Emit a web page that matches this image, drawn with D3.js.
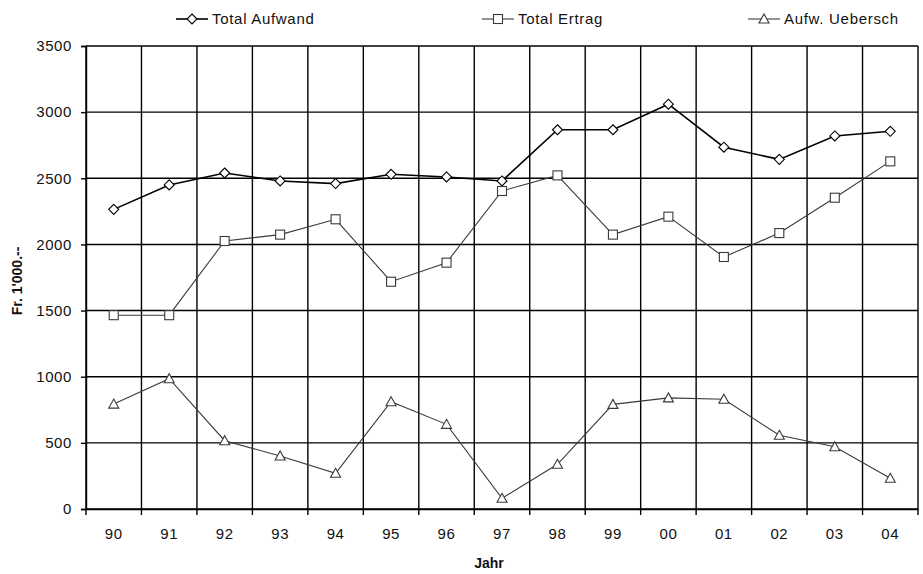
<!DOCTYPE html>
<html>
<head>
<meta charset="utf-8">
<script src="https://cdn.jsdelivr.net/npm/d3@7"></script>
<style>
  html, body { margin: 0; padding: 0; background: #fff; }
  svg text { font-family: Arial, "Liberation Sans", sans-serif; fill: #111; }
</style>
</head>
<body>
<svg id="chart" width="923" height="574"></svg>
<script>
// Jahre und Werte in Fr. 1'000.--
const years = ["90","91","92","93","94","95","96","97","98","99","00","01","02","03","04"];
const totalAufwand = [2265,2450,2540,2480,2460,2530,2510,2480,2867,2867,3060,2735,2643,2820,2855];
const totalErtrag  = [1465,1465,2026,2074,2190,1718,1862,2404,2522,2074,2210,1905,2086,2353,2628];
const aufwUebersch = [ 793, 985, 516, 401, 270, 811, 640,  81, 338, 791, 840, 830, 557, 471, 232];
const yTicks = [0,500,1000,1500,2000,2500,3000,3500];

const series = [
  { name: "Total Aufwand",  values: totalAufwand, marker: "diamond",  color: "#000", width: 1.6, legendX: 176 },
  { name: "Total Ertrag",   values: totalErtrag,  marker: "square",   color: "#3a3a3a", width: 1.1, legendX: 482 },
  { name: "Aufw. Uebersch", values: aufwUebersch, marker: "triangle", color: "#3a3a3a", width: 1.1, legendX: 748 }
];

const svg = d3.select("#chart");
const plotL = 86, plotR = 918, plotT = 46, plotB = 509;

const x = d3.scaleBand().domain(years).range([plotL, plotR]);
const y = d3.scaleLinear().domain([0, 3500]).range([plotB, plotT]);

// horizontal grid
svg.append("g").selectAll("line").data(yTicks).join("line")
  .attr("x1", plotL).attr("x2", plotR)
  .attr("y1", d => y(d)).attr("y2", d => y(d))
  .attr("stroke", "#000").attr("stroke-width", 1.4);

// vertical grid at category boundaries
const bounds = years.map(d => x(d)).concat([plotR]);
svg.append("g").selectAll("line").data(bounds).join("line")
  .attr("x1", d => d).attr("x2", d => d)
  .attr("y1", plotT).attr("y2", plotB)
  .attr("stroke", "#000").attr("stroke-width", 1.4);

// y axis
const yAxis = svg.append("g").attr("transform", `translate(${plotL},0)`)
  .call(d3.axisLeft(y).tickValues(yTicks).tickSize(5).tickPadding(9).tickFormat(d3.format("d")));
yAxis.select(".domain").attr("stroke", "#000").attr("stroke-width", 1.4);
yAxis.selectAll(".tick line").attr("stroke", "#000").attr("stroke-width", 1.4);
yAxis.selectAll(".tick text").attr("font-size", 15).attr("letter-spacing", 0.6)
  .attr("font-family", "Arial, 'Liberation Sans', sans-serif");

// x axis: labels centred in bands, ticks at boundaries
const xAxis = svg.append("g").attr("transform", `translate(0,${plotB})`)
  .call(d3.axisBottom(x).tickSize(0).tickPadding(19));
xAxis.select(".domain").attr("stroke", "#000").attr("stroke-width", 1.4);
xAxis.selectAll(".tick text").attr("font-size", 15).attr("letter-spacing", 0.6)
  .attr("font-family", "Arial, 'Liberation Sans', sans-serif");
svg.append("g").selectAll("line").data(bounds).join("line")
  .attr("x1", d => d).attr("x2", d => d)
  .attr("y1", plotB).attr("y2", plotB + 6)
  .attr("stroke", "#000").attr("stroke-width", 1.4);

// axis titles
svg.append("text").attr("x", 489).attr("y", 568)
  .attr("text-anchor", "middle").attr("font-size", 14).attr("font-weight", "bold").text("Jahr");
svg.append("text").attr("transform", "translate(22,281) rotate(-90)")
  .attr("text-anchor", "middle").attr("font-size", 14).attr("font-weight", "bold").text("Fr. 1'000.--");

function drawMarker(g, type, cx, cy, color) {
  if (type === "diamond") {
    g.append("path").attr("d", `M${cx},${cy-5}L${cx+5},${cy}L${cx},${cy+5}L${cx-5},${cy}Z`)
      .attr("fill", "#fff").attr("stroke", color).attr("stroke-width", 1.1);
  } else if (type === "square") {
    g.append("rect").attr("x", cx-4.5).attr("y", cy-4.5).attr("width", 9).attr("height", 9)
      .attr("fill", "#fff").attr("stroke", color).attr("stroke-width", 1.1);
  } else {
    g.append("path").attr("d", `M${cx},${cy-5}L${cx+5},${cy+4}L${cx-5},${cy+4}Z`)
      .attr("fill", "#fff").attr("stroke", color).attr("stroke-width", 1.1);
  }
}

const cx = d => x(d) + x.bandwidth() / 2;
const line = d3.line().x((d, i) => cx(years[i])).y(d => y(d));

series.forEach(s => {
  const g = svg.append("g");
  g.append("path").datum(s.values).attr("d", line)
    .attr("fill", "none").attr("stroke", s.color).attr("stroke-width", s.width);
  s.values.forEach((v, i) => drawMarker(g, s.marker, cx(years[i]), y(v), s.color));

  // legend entry
  const lg = svg.append("g");
  const ly = 19;
  lg.append("line").attr("x1", s.legendX).attr("x2", s.legendX + 32)
    .attr("y1", ly).attr("y2", ly).attr("stroke", s.color).attr("stroke-width", s.width);
  drawMarker(lg, s.marker, s.legendX + 16, ly, s.color);
  lg.append("text").attr("x", s.legendX + 36).attr("y", ly + 5)
    .attr("font-size", 15).attr("letter-spacing", 0.7).text(s.name);
});
</script>
</body>
</html>
